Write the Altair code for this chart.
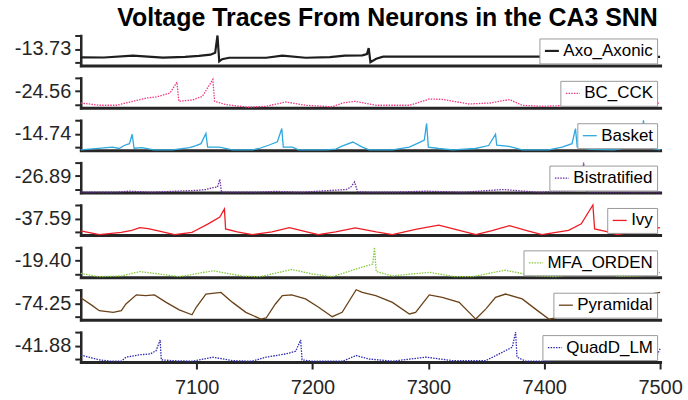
import altair as alt
import pandas as pd

names = ["Axo_Axonic", "BC_CCK", "Basket", "Bistratified", "Ivy", "MFA_ORDEN", "Pyramidal", "QuadD_LM"]
colors = ["#1e1e1e", "#ee3a84", "#2ea8de", "#6a2c9e", "#ee1c25", "#86c93c", "#6b4218", "#2b2bb0"]
dotted = [False, True, False, True, False, True, False, True]
stroke_w = [2.2, 1.3, 1.3, 1.3, 1.3, 1.3, 1.3, 1.3]
mid_labels = [-13.73, -24.56, -14.74, -26.89, -37.59, -19.40, -74.25, -41.88]
y_low = [-63.73, -74.56, -64.74, -76.89, -77.59, -69.40, -76.25, -71.88]
y_high = [36.27, 25.44, 35.26, 23.11, 2.41, 30.60, -72.25, -11.88]
x_ticks = [7100, 7200, 7300, 7400, 7500]

axo_t = [7000, 7020, 7045, 7071, 7090, 7102, 7112, 7116, 7118, 7119.5, 7122, 7128, 7160, 7174, 7194, 7215,
         7228, 7243, 7247, 7248.5, 7250, 7255, 7261, 7340, 7400, 7497, 7500]
axo_v = [-45.2, -45.5, -38.5, -46.0, -43.0, -39.5, -35.0, -28.0, 36.27, -60.0, -52.0, -46.5, -46.5, -38.5, -46.5, -44.0,
         -38.5, -37.5, -33.0, -10.7, -62.7, -50.0, -42.6, -42.6, -42.6, -43.0, -43.0]

bc_t = [7000, 7016, 7031, 7045, 7057, 7065, 7077, 7083, 7084.6, 7096.5, 7105, 7114, 7115.5, 7125, 7145, 7160, 7177,
        7194, 7217, 7226, 7237, 7255, 7284, 7301, 7312, 7335, 7353, 7370, 7381, 7398, 7420, 7445, 7470, 7500]
bc_v = [-67.9, -76.4, -76.4, -61.6, -49.4, -45.6, -30.9, 9.9, -61.6, -56.8, -43.1, 20.0, -61.6, -73.8, -83.8, -80.1, -64.2,
        -76.4, -82.0, -67.9, -61.6, -76.4, -76.4, -53.1, -54.5, -71.6, -67.9, -55.2, -76.4, -80.1, -77.0, -73.0, -76.0, -68.0]

bas_t = [7000, 7027.5, 7033, 7038, 7042, 7044.4, 7046, 7053, 7063, 7079, 7094, 7099.5, 7103.8, 7108, 7109.5, 7119.6,
         7131, 7148, 7154, 7162.6, 7169.7, 7173.5, 7174.8, 7182.6, 7188, 7211.6, 7220, 7226, 7234.8, 7243, 7249, 7269,
         7283.6, 7292, 7296.5, 7298.5, 7300, 7309, 7321, 7340.6, 7352, 7358, 7359, 7369.6, 7381, 7404, 7415.4, 7424,
         7427, 7428.5, 7440, 7460, 7475, 7483, 7485.7, 7487, 7500]
bas_v = [-74.7, -64.7, -69.7, -57.7, -51.7, -16.7, -68.7, -66.7, -74.7, -74.7, -66.7, -58.7, -51.7, -13.7, -64.7, -64.7,
         -74.7, -74.7, -69.7, -56.7, -44.7, 4.3, -64.7, -64.7, -74.7, -74.7, -71.7, -59.7, -45.7, -64.7, -74.7, -74.7,
         -64.7, -47.7, -38.7, 23.3, -64.7, -69.7, -74.7, -69.7, -58.7, -16.7, -57.7, -61.7, -74.7, -74.7, -64.7, -51.7,
         4.3, -64.7, -72.7, -74.7, -64.7, -49.7, 35.26, -64.7, -74.7]

bis_t = [7000, 7030, 7042, 7060, 7101, 7108, 7114, 7118, 7120, 7121.5, 7150, 7168, 7190, 7229, 7233, 7236.3, 7239,
         7270, 7297.6, 7330, 7364, 7395, 7421, 7431, 7434, 7437, 7470, 7500]
bis_v = [-86.9, -86.9, -82.9, -86.9, -79.9, -76.9, -69.9, -67.9, -38.9, -86.9, -86.9, -83.9, -86.9, -76.9, -67.9, -48.9, -85.9,
         -86.9, -82.9, -86.9, -76.9, -86.9, -82.9, -79.9, 23.11, -86.9, -86.9, -86.9]

ivy_t = [7000, 7016, 7035, 7044, 7051, 7058, 7065, 7081, 7096, 7099.5, 7110, 7120, 7124, 7125, 7135, 7148, 7165, 7180,
         7195, 7205, 7220, 7237, 7255, 7269, 7290, 7309, 7325, 7341, 7355, 7370, 7385, 7398, 7421, 7432, 7442, 7443.5,
         7455, 7463, 7485, 7500]
ivy_v = [-74.4, -85.6, -79.2, -72.8, -64.8, -68.0, -72.8, -85.6, -79.2, -72.8, -53.6, -33.6, -9.6, -68.8, -77.6, -85.6, -77.6,
         -64.8, -77.6, -85.6, -77.6, -65.6, -77.6, -85.6, -69.6, -57.6, -71.2, -85.6, -73.6, -59.2, -73.6, -85.6, -72.8,
         -53.6, 2.41, -68.8, -77.6, -85.6, -73.6, -64.8]

mfa_t = [7000, 7016, 7035, 7051, 7068, 7085, 7114, 7140, 7155, 7182, 7200, 7217, 7226, 7240, 7252, 7253.5, 7255, 7269,
         7285, 7301, 7323, 7338, 7366, 7390, 7410, 7440, 7465, 7485, 7500]
mfa_v = [-66.4, -78.4, -75.4, -59.4, -68.4, -78.4, -56.4, -76.4, -78.4, -51.4, -68.4, -78.4, -66.4, -46.4, -31.4, 30.6, -59.4,
         -75.4, -68.4, -62.4, -78.4, -78.4, -54.4, -74.4, -78.4, -59.4, -77.4, -74.4, -62.4]

pyr_t = [7000, 7010, 7016, 7028, 7035, 7039, 7048, 7056, 7063.6, 7073.7, 7085, 7096, 7099.5, 7108, 7121, 7131, 7142.5,
         7155.4, 7160, 7168, 7174, 7182, 7194, 7205.6, 7217, 7225.6, 7237.7, 7243, 7254.6, 7269, 7283.6, 7289, 7300.8,
         7312, 7326.6, 7340.9, 7349.5, 7358, 7366.7, 7381, 7392.5, 7404, 7409.7, 7425, 7440, 7460, 7480, 7500]
pyr_v = [-73.45, -74.61, -75.37, -75.61, -75.37, -74.37, -73.01, -73.13, -73.01, -74.13, -75.25, -75.97, -74.89, -72.89,
         -72.65, -74.13, -75.61, -76.61, -76.45, -74.37, -73.13, -73.01, -73.61, -74.89, -76.25, -75.61, -72.25, -72.65,
         -73.13, -74.13, -75.85, -75.61, -73.01, -73.37, -74.13, -76.61, -75.13, -73.37, -72.89, -73.61, -75.13, -76.61,
         -76.45, -75.05, -73.45, -72.85, -73.25, -72.65]

qd_t = [7000, 7016, 7026, 7035, 7039, 7051, 7060, 7065, 7068.5, 7069.5, 7079, 7096.5, 7114, 7131, 7148, 7160, 7177,
        7185.5, 7189.8, 7191, 7199.6, 7226, 7237.7, 7249, 7269, 7297.9, 7321, 7349.5, 7363.8, 7372.4, 7375.3, 7376.5,
        7384, 7404, 7425, 7445, 7465, 7485, 7497, 7500]
qd_v = [-63.0, -73.7, -76.7, -76.7, -67.7, -62.3, -60.5, -53.3, -29.3, -73.7, -75.5, -76.7, -67.7, -75.5, -76.7, -67.7, -60.5,
        -54.5, -29.3, -73.7, -76.7, -76.7, -64.1, -71.9, -76.7, -67.7, -75.5, -75.5, -56.9, -45.5, -11.88, -67.7,
        -76.7, -76.7, -68.9, -75.5, -68.9, -75.5, -65.9, -49.1]

series_t = [axo_t, bc_t, bas_t, bis_t, ivy_t, mfa_t, pyr_t, qd_t]
series_v = [axo_v, bc_v, bas_v, bis_v, ivy_v, mfa_v, pyr_v, qd_v]

FONT = "Liberation Sans"
AX = "#262626"
panels = []
n = len(names)
for i in range(n):
    df = pd.DataFrame({"t": series_t[i], "v": series_v[i], "name": names[i]})
    lo, hi, mid = y_low[i], y_high[i], mid_labels[i]
    dom_lo = lo - (hi - lo) / 9.0
    last = i == n - 1
    xaxis = alt.Axis(values=x_ticks, title=None, labels=last, ticks=last, grid=False,
                     tickSize=7, tickWidth=2, tickColor=AX, labelPadding=9, labelFontSize=20,
                     labelFont=FONT, labelColor=AX, domainColor=AX, domainWidth=3, domainCap="square",
                     labelFlush=False, labelOverlap=False, format="d")
    yaxis = alt.Axis(values=[lo, mid, hi], title=None, grid=False,
                     labelExpr=f"abs(datum.value - ({mid})) < 0.001 ? '{mid:.2f}' : ''",
                     tickSize=6, tickWidth=2, tickColor=AX, labelPadding=4, labelFontSize=20,
                     labelFont=FONT, labelColor=AX, domainColor=AX, domainWidth=2.5, domainCap="square",
                     labelFlush=False, minExtent=76, maxExtent=76)
    mk = dict(strokeWidth=stroke_w[i])
    leg = dict(title=None, orient="top-right", offset=3, symbolType="stroke", symbolSize=196,
               symbolStrokeWidth=stroke_w[i], labelFontSize=17, labelFont=FONT, labelColor="black",
               padding=4, labelOffset=3, strokeColor="#9a9a9a", fillColor="white", labelLimit=300)
    if dotted[i]:
        mk["strokeDash"] = [1.5, 1.2]
        leg["symbolDash"] = [1.5, 1.2]
    ch = alt.Chart(df).mark_line(**mk).encode(
        x=alt.X("t:Q", scale=alt.Scale(domain=[7000, 7500], nice=False, zero=False), axis=xaxis),
        y=alt.Y("v:Q", scale=alt.Scale(domain=[dom_lo, hi], nice=False, zero=False), axis=yaxis),
        color=alt.Color("name:N", scale=alt.Scale(domain=[names[i]], range=[colors[i]]),
                        legend=alt.Legend(**leg)),
    ).properties(width=581, height=30)
    panels.append(ch)

chart = alt.vconcat(*panels, spacing=12.5, bounds="flush").resolve_scale(
    color="independent", y="independent"
).resolve_legend(color="independent").properties(
    title=alt.TitleParams("Voltage Traces From Neurons in the CA3 SNN", fontSize=25, fontWeight="bold",
                          font=FONT, color="black", anchor="middle", offset=0, dx=44),
    padding={"left": 5, "top": 5, "right": 5, "bottom": 0},
    background="white",
).configure_view(stroke=None)

chart.save("out.html", embed_options={"renderer": "svg", "actions": False})
